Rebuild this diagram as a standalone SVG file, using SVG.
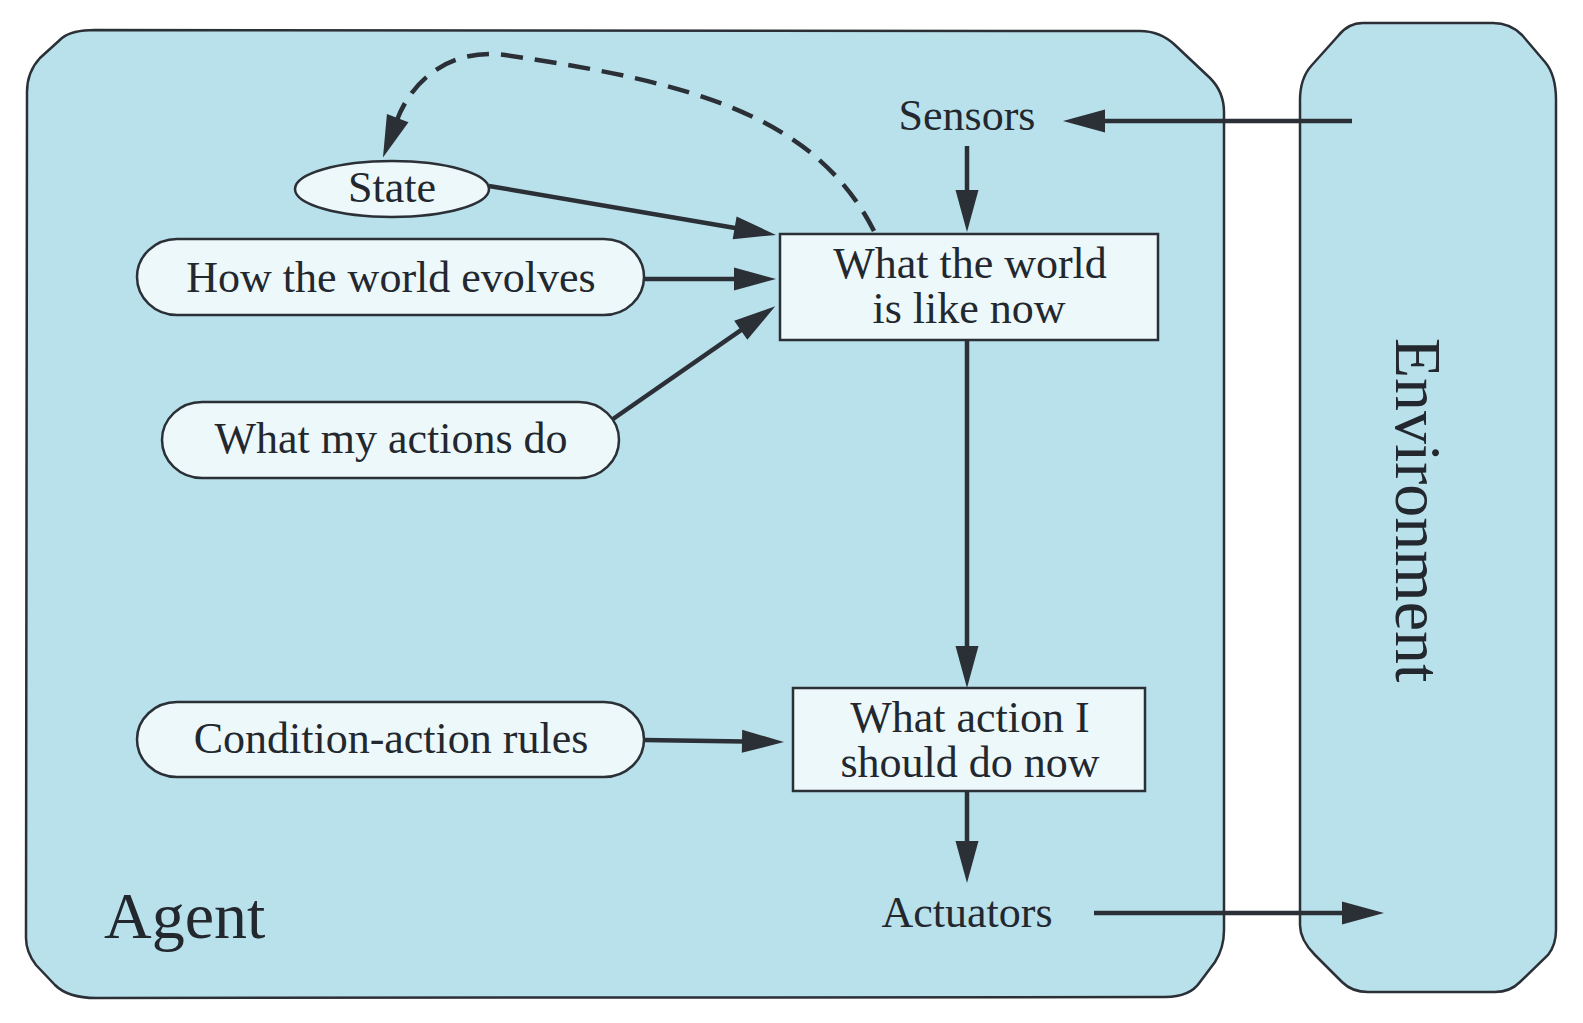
<svg xmlns="http://www.w3.org/2000/svg" width="1583" height="1023" viewBox="0 0 1583 1023">
  <style>
    .frame { fill: #b9e1eb; stroke: #2b2f36; stroke-width: 2.5; }
    .node { fill: #ecf8fa; stroke: #2b2f36; stroke-width: 2.5; }
    .label { font-family: 'Liberation Serif', 'DejaVu Serif', serif; font-size: 44px; fill: #23272e; text-anchor: middle; }
    .big { font-family: 'Liberation Serif', 'DejaVu Serif', serif; font-size: 66px; fill: #23272e; }
    .edge { fill: none; stroke: #2b2f36; stroke-width: 4.5; }
    .dashed { stroke-dasharray: 22 12; }
  </style>
  <defs>
    <marker id="arrow" markerUnits="userSpaceOnUse" markerWidth="44" markerHeight="24" refX="2" refY="12" orient="auto" overflow="visible">
      <path d="M0,0.5 L42,12 L0,23.5 Z" fill="#2b2f36" stroke="none"/>
    </marker>
  </defs>

  <rect width="1583" height="1023" fill="#ffffff"/>

  <!-- Agent container -->
  <g id="agent">
    <path class="frame" d="M95,30 L1140,31 Q1160,31 1175,45 L1210,78 Q1224,92 1224,112 L1224,930 Q1224,948 1215,962 L1200,982 Q1190,997 1165,997 L96,998 Q68,998 55,985 L36,965 Q26,952 26,938 L27,92 Q27,72 40,58 L62,38 Q72,30 95,30 Z"/>
    <text class="big" x="104" y="938">Agent</text>
  </g>

  <!-- Environment container -->
  <g id="environment">
    <path class="frame" d="M1363,23 L1493,23 Q1510,23 1522,35 L1545,62 Q1556,75 1556,100 L1556,930 Q1556,945 1548,955 L1520,982 Q1510,992 1495,992 L1368,992 Q1352,992 1342,982 L1315,955 Q1300,940 1300,925 L1300,100 Q1300,78 1312,65 L1338,36 Q1348,23 1363,23 Z"/>
    <text class="big" text-anchor="middle" transform="translate(1396,510) rotate(90)">Environment</text>
  </g>

  <!-- Connectors -->
  <g id="connectors">
    <path class="edge" d="M1352,121 L1103,121" marker-end="url(#arrow)"/>
    <path class="edge" d="M967,146 L967,192" marker-end="url(#arrow)"/>
    <path class="edge" d="M489,186 L736.6,228.2" marker-end="url(#arrow)"/>
    <path class="edge" d="M644,279 L736,279" marker-end="url(#arrow)"/>
    <path class="edge" d="M613,419 L742.4,329.1" marker-end="url(#arrow)"/>
    <path class="edge" d="M967,341 L967,648" marker-end="url(#arrow)"/>
    <path class="edge" d="M644,740 L744,741.4" marker-end="url(#arrow)"/>
    <path class="edge" d="M967,792 L967,843" marker-end="url(#arrow)"/>
    <path class="edge" d="M1094,913 L1344,913" marker-end="url(#arrow)"/>
    <path class="edge dashed" d="M874,231 C815,115 690,82 505,55 C450,48 412,80 397,120" marker-end="url(#arrow)"/>
  </g>

  <g id="sensors">
    <text class="label" x="967" y="130">Sensors</text>
  </g>

  <g id="actuators">
    <text class="label" x="967" y="927">Actuators</text>
  </g>

  <g id="state">
    <ellipse class="node" cx="392" cy="189" rx="97" ry="28"/>
    <text class="label" x="392" y="202">State</text>
  </g>

  <g id="world-evolves">
    <rect class="node" x="137" y="239" width="507" height="76" rx="40" ry="38"/>
    <text class="label" x="391" y="292">How the world evolves</text>
  </g>

  <g id="actions-do">
    <rect class="node" x="162" y="402" width="457" height="76" rx="40" ry="38"/>
    <text class="label" x="391" y="453">What my actions do</text>
  </g>

  <g id="rules">
    <rect class="node" x="137" y="702" width="507" height="75" rx="40" ry="37.5"/>
    <text class="label" x="391" y="753">Condition-action rules</text>
  </g>

  <g id="world-now">
    <rect class="node" x="780" y="234" width="378" height="106"/>
    <text class="label" x="970" y="278">What the world</text>
    <text class="label" x="969" y="323">is like now</text>
  </g>

  <g id="action-now">
    <rect class="node" x="793" y="688" width="352" height="103"/>
    <text class="label" x="970" y="732">What action I</text>
    <text class="label" x="970" y="777">should do now</text>
  </g>
</svg>
